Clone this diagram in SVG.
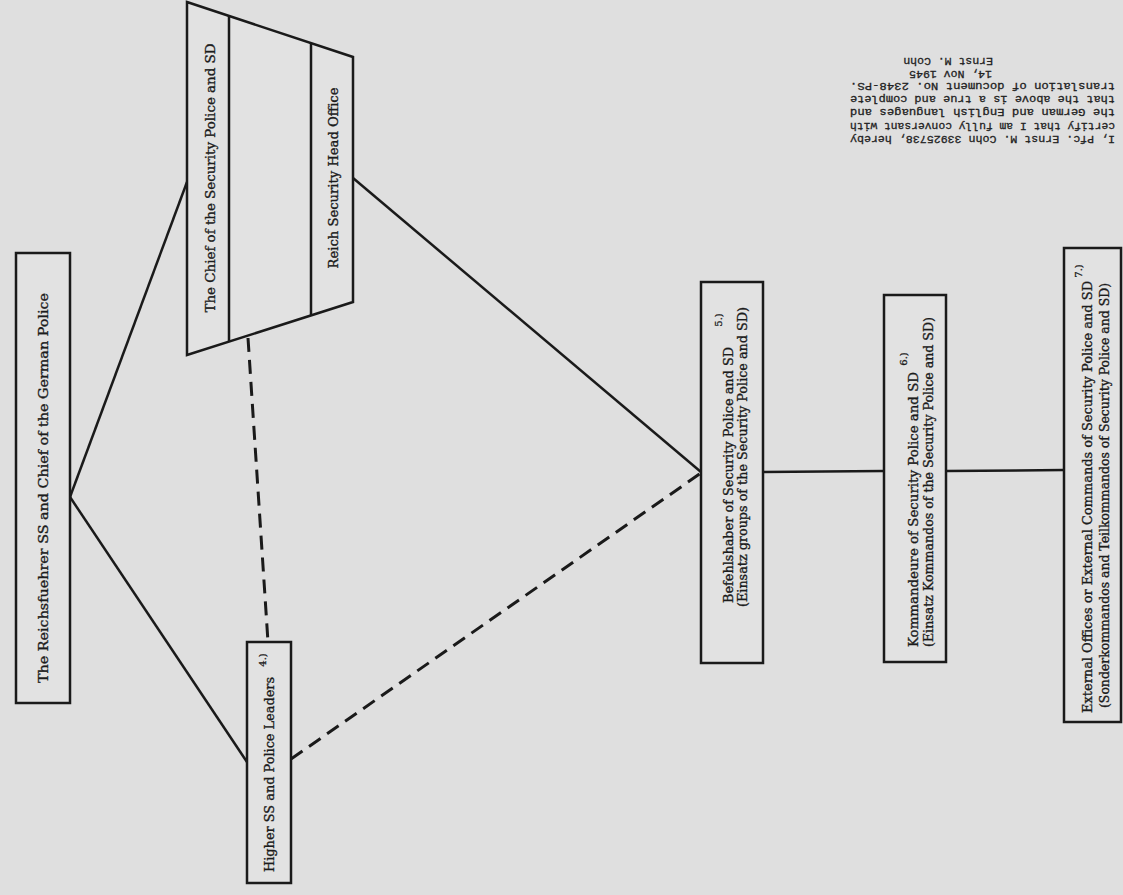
<svg xmlns="http://www.w3.org/2000/svg" width="1123" height="895" viewBox="0 0 1123 895">
<style>
.bg{fill:#dfdfdf}
.box{fill:#e2e2e2;stroke:#1a1a1a;stroke-width:2.5}
.ln{fill:none;stroke:#1a1a1a;stroke-width:2.5}
.dash{fill:none;stroke:#1a1a1a;stroke-width:3;stroke-dasharray:14 8}
.t{font-family:"DejaVu Serif","Liberation Serif",serif;font-size:12.5px;fill:#1c1c1c;stroke:#1c1c1c;stroke-width:0.35;text-anchor:middle}
.sup{font-family:"DejaVu Serif","Liberation Serif",serif;font-size:10px;fill:#1c1c1c;stroke:#1c1c1c;stroke-width:0.3;text-anchor:middle}
.cert{font-family:"Liberation Mono","DejaVu Sans Mono",monospace;font-size:11.5px;fill:#222;stroke:#222;stroke-width:0.3}
</style>
<rect class="bg" x="0" y="0" width="1123" height="895"/>
<g id="connectors">
<line class="ln" x1="70" y1="497" x2="187" y2="182"/>
<line class="ln" x1="70" y1="497" x2="247" y2="762"/>
<line class="ln" x1="353" y1="178" x2="701" y2="472"/>
<line class="ln" x1="763" y1="472" x2="884" y2="471"/>
<line class="ln" x1="946" y1="471" x2="1064" y2="470"/>
<line class="dash" x1="248" y1="338" x2="268" y2="642"/>
<line class="dash" x1="291" y1="759" x2="701" y2="473"/>
</g>
<g id="reichsfuehrer">
<rect class="box" x="16" y="253" width="54" height="450"/>
<text class="t" transform="translate(43,488) rotate(-90)" y="4.5" textLength="390" lengthAdjust="spacingAndGlyphs">The Reichsfuehrer SS and Chief of the German Police</text>
</g>
<g id="chief-sipo-sd">
<polygon class="box" points="187,2 353,57 353,302 187,355"/>
<line class="ln" x1="229" y1="16" x2="229" y2="342"/>
<line class="ln" x1="311" y1="43" x2="311" y2="315"/>
<text class="t" transform="translate(210,178) rotate(-90)" y="4.5" textLength="269" lengthAdjust="spacingAndGlyphs">The Chief of the Security Police and SD</text>
<text class="t" transform="translate(333,178) rotate(-90)" y="4.5" textLength="181" lengthAdjust="spacingAndGlyphs">Reich Security Head Office</text>
</g>
<g id="higher-ss">
<rect class="box" x="247" y="642" width="44" height="241"/>
<text class="t" transform="translate(269,774.5) rotate(-90)" y="4.5" textLength="195" lengthAdjust="spacingAndGlyphs">Higher SS and Police Leaders</text>
<text class="sup" transform="translate(262,660) rotate(-90)" y="3.5">4.)</text>
</g>
<g id="befehlshaber">
<rect class="box" x="701" y="282" width="62" height="381"/>
<text class="t" transform="translate(728,475) rotate(-90)" y="4.5" textLength="256" lengthAdjust="spacingAndGlyphs">Befehlshaber of Security Police and SD</text>
<text class="sup" transform="translate(718,320) rotate(-90)" y="3.5">5.)</text>
<text class="t" transform="translate(742,457) rotate(-90)" y="4.5" textLength="300" lengthAdjust="spacingAndGlyphs">(Einsatz groups of the Security Police and SD)</text>
</g>
<g id="kommandeure">
<rect class="box" x="884" y="295" width="62" height="367"/>
<text class="t" transform="translate(913,509.5) rotate(-90)" y="4.5" textLength="275" lengthAdjust="spacingAndGlyphs">Kommandeure of Security Police and SD</text>
<text class="sup" transform="translate(903,359) rotate(-90)" y="3.5">6.)</text>
<text class="t" transform="translate(928,482) rotate(-90)" y="4.5" textLength="330" lengthAdjust="spacingAndGlyphs">(Einsatz Kommandos of the Security Police and SD)</text>
</g>
<g id="external">
<rect class="box" x="1064" y="248" width="57" height="474"/>
<text class="t" transform="translate(1087,497) rotate(-90)" y="4.5" textLength="432" lengthAdjust="spacingAndGlyphs">External Offices or External Commands of Security Police and SD</text>
<text class="sup" transform="translate(1078,271) rotate(-90)" y="3.5">7.)</text>
<text class="t" transform="translate(1104,495.5) rotate(-90)" y="4.5" textLength="425" lengthAdjust="spacingAndGlyphs">(Sonderkommandos and Teilkommandos of Security Police and SD)</text>
</g>
<g id="certification">
<text class="cert" transform="translate(1115,136) rotate(180)" textLength="265" lengthAdjust="spacingAndGlyphs">I, Pfc. Ernst M. Cohn 33925738, hereby</text>
<text class="cert" transform="translate(1115,123) rotate(180)" textLength="265" lengthAdjust="spacingAndGlyphs">certify that I am fully conversant with</text>
<text class="cert" transform="translate(1115,109) rotate(180)" textLength="265" lengthAdjust="spacingAndGlyphs">the German and English languages and</text>
<text class="cert" transform="translate(1115,96) rotate(180)" textLength="265" lengthAdjust="spacingAndGlyphs">that the above is a true and complete</text>
<text class="cert" transform="translate(1115,83) rotate(180)" textLength="265" lengthAdjust="spacingAndGlyphs">translation of document No. 2348-PS.</text>
<text class="cert" transform="translate(992,71) rotate(180)">14, Nov 1945</text>
<text class="cert" transform="translate(993,58) rotate(180)">Ernst M. Cohn</text>
</g>
</svg>
